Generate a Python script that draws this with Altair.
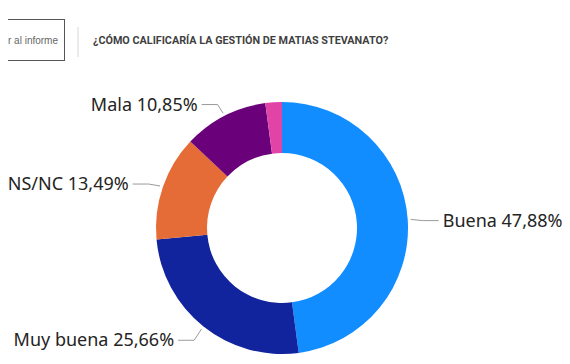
import altair as alt
import pandas as pd

categories = ["Buena", "Muy buena", "NS/NC", "Mala", "Muy mala"]
values = [47.88, 25.66, 13.49, 10.85, 2.12]
colors = ["#118DFF", "#12239E", "#E66C37", "#6B007B", "#E044A7"]
title_text = "¿CÓMO CALIFICARÍA LA GESTIÓN DE MATIAS STEVANATO?"
button_text = "r al informe"

df = pd.DataFrame({"cat": categories, "value": values, "order": list(range(len(categories)))})

CX, CY = 274, 220
R_IN, R_OUT = 75, 126
FONT = "Noto Sans"

base = alt.Chart(df)

arcs = base.mark_arc(innerRadius=R_IN, outerRadius=R_OUT).encode(
    theta=alt.Theta("value:Q", stack=True),
    color=alt.Color("cat:N", scale=alt.Scale(domain=categories, range=colors), legend=None),
    order=alt.Order("order:Q"),
    x=alt.value(CX),
    y=alt.value(CY),
)

geo = base.transform_joinaggregate(total="sum(value)").transform_window(
    cum="sum(value)", sort=[alt.SortField("order")]
).transform_calculate(
    mid="((datum.cum - datum.value / 2) / datum.total) * 2 * PI",
).transform_calculate(
    x0=f"{CX} + 129 * sin(datum.mid)",
    y0=f"{CY} - 129 * cos(datum.mid)",
    x1=f"{CX} + 141 * sin(datum.mid)",
    y1=f"{CY} - 141 * cos(datum.mid) + 2",
    side="sin(datum.mid) >= 0 ? 1 : -1",
).transform_calculate(
    x2="datum.x1 + datum.side * 16",
).transform_calculate(
    lx="datum.x2 + datum.side * 4",
    label="datum.cat + ' ' + replace(format(datum.value, '.2f'), '.', ',') + '%'",
).transform_filter("datum.value >= 5")

lead1 = geo.mark_rule(color="#9a9a9a", strokeWidth=1).encode(
    x=alt.X("x0:Q", scale=None), y=alt.Y("y0:Q", scale=None),
    x2="x1:Q", y2="y1:Q",
)
lead2 = geo.mark_rule(color="#9a9a9a", strokeWidth=1).encode(
    x=alt.X("x1:Q", scale=None), y=alt.Y("y1:Q", scale=None),
    x2="x2:Q", y2="y1:Q",
)
lab_r = geo.transform_filter("datum.side > 0").mark_text(
    align="left", baseline="middle", font=FONT, fontSize=18, color="#252423", dy=1
).encode(x=alt.X("lx:Q", scale=None), y=alt.Y("y1:Q", scale=None), text="label:N")
lab_l = geo.transform_filter("datum.side < 0").mark_text(
    align="right", baseline="middle", font=FONT, fontSize=18, color="#252423", dy=1
).encode(x=alt.X("lx:Q", scale=None), y=alt.Y("y1:Q", scale=None), text="label:N")

hdr = alt.Chart(pd.DataFrame({"t": [title_text], "b": [button_text]}))
box_top = hdr.mark_rule(color="#555555", strokeWidth=1).encode(
    x=alt.value(0), x2=alt.value(56), y=alt.value(11.5), y2=alt.value(11.5)
)
box_bot = hdr.mark_rule(color="#555555", strokeWidth=1).encode(
    x=alt.value(0), x2=alt.value(56), y=alt.value(52.5), y2=alt.value(52.5)
)
box_right = hdr.mark_rule(color="#555555", strokeWidth=1).encode(
    x=alt.value(56.5), x2=alt.value(56.5), y=alt.value(11), y2=alt.value(53)
)
btn_txt = hdr.mark_text(align="right", baseline="middle", font="Liberation Sans", fontSize=10,
                        color="#666666").encode(
    x=alt.value(50), y=alt.value(33), text="b:N"
)
sep = hdr.mark_rule(color="#d6d6d6").encode(
    x=alt.value(70), x2=alt.value(70), y=alt.value(19), y2=alt.value(49)
)
ttl = hdr.mark_text(align="left", baseline="middle", font="Roboto", fontWeight="bold",
                    fontSize=10.8, color="#3f3f3f").encode(
    x=alt.value(85), y=alt.value(33), text="t:N"
)

chart = alt.layer(arcs, lead1, lead2, lab_r, lab_l, box_top, box_bot, box_right, btn_txt, sep, ttl).properties(
    width=554, height=348, autosize=alt.AutoSizeParams(type="none"), padding=0
).configure_view(stroke=None)

chart.save("out.html", embed_options={"renderer": "svg", "actions": False})
